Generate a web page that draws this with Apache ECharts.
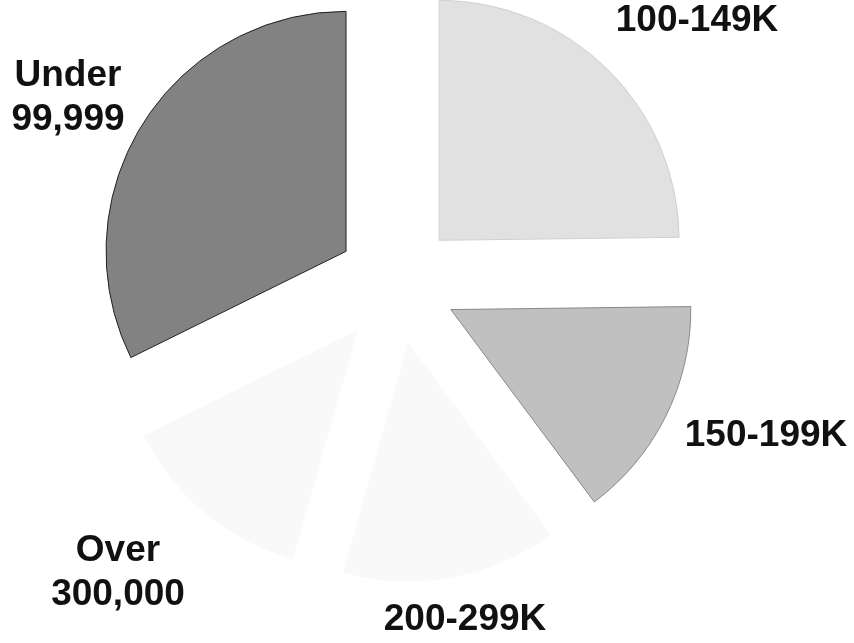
<!DOCTYPE html>
<html>
<head>
<meta charset="utf-8">
<script src="https://cdn.jsdelivr.net/npm/echarts@6/dist/echarts.min.js"></script>
<style>
html,body{margin:0;padding:0;background:#fff;}
#chart{width:854px;height:643px;}
</style>
</head>
<body>
<div id="chart"></div>
<script>
// Data (percent shares, clockwise from 12 o'clock)
const categories = ['100-149K', '150-199K', '200-299K', 'Over 300,000', 'Under 99,999'];
const shares = [24.8, 15.0, 14.6, 13.3, 32.3];

// Styling (separate from data)
const sliceColors = ['#e1e1e1', '#c0c0c0', '#f9f9f9', '#f9f9f9', '#828282'];
const sliceBorders = ['#d0d0d0', '#8a8a8a', '#ffffff', '#ffffff', '#222222'];
const labelXY = [[697, 21], [766, 436], [465, 620], [118, 573], [68, 98]];

const chart = echarts.init(document.getElementById('chart'), null, {renderer: 'canvas'});
const pieBase = {
  type: 'pie',
  center: [397, 283],
  radius: [0, 240],
  startAngle: 90,
  clockwise: true,
  avoidLabelOverlap: false,
  silent: true
};
chart.setOption({
  animation: false,
  backgroundColor: '#ffffff',
  series: [
    Object.assign({}, pieBase, {
      selectedMode: 'multiple',
      selectedOffset: 60,
      label: { show: false },
      labelLine: { show: false },
      data: categories.map((c, i) => ({
        name: c,
        value: shares[i],
        selected: true,
        itemStyle: { color: sliceColors[i], borderColor: sliceBorders[i], borderWidth: 1 }
      }))
    }),
    Object.assign({}, pieBase, {
      selectedMode: false,
      itemStyle: { color: 'rgba(0,0,0,0)', borderWidth: 0 },
      label: {
        show: true,
        position: 'outside',
        formatter: p => p.name.replace(' ', '\n'),
        fontFamily: 'Liberation Sans, Arial, sans-serif',
        fontWeight: 'bold',
        fontSize: 37,
        lineHeight: 44,
        color: '#111111',
        align: 'center'
      },
      labelLine: { show: false },
      labelLayout: function (params) {
        const xy = labelXY[params.dataIndex];
        return { x: xy[0], y: xy[1], align: 'center', verticalAlign: 'middle' };
      },
      data: categories.map((c, i) => ({ name: c, value: shares[i] }))
    })
  ]
});
</script>
</body>
</html>
